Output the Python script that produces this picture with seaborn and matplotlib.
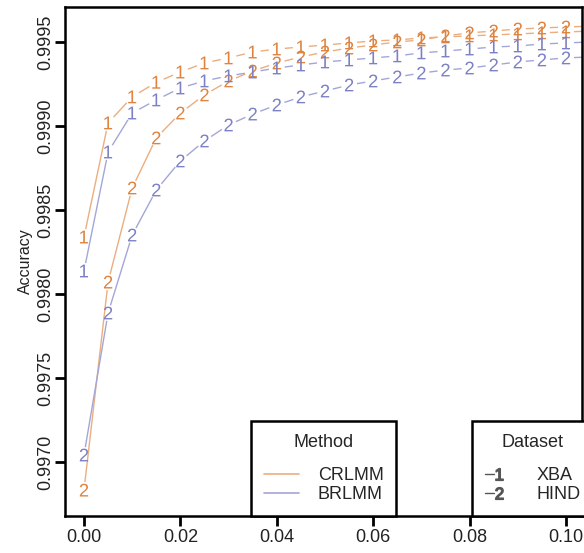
import numpy as np
import pandas as pd
import matplotlib
matplotlib.use("Agg")
import matplotlib.pyplot as plt
import seaborn as sns
from matplotlib.collections import LineCollection
from matplotlib.lines import Line2D
from matplotlib.legend_handler import HandlerTuple

# threshold on the x axis, one accuracy curve per method / dataset
threshold = [0.000, 0.005, 0.010, 0.015, 0.020, 0.025, 0.030, 0.035, 0.040, 0.045, 0.050,
             0.055, 0.060, 0.065, 0.070, 0.075, 0.080, 0.085, 0.090, 0.095, 0.100, 0.105]
crlmm_xba = [0.998339, 0.999018, 0.999173, 0.999260, 0.999321, 0.999375, 0.999405, 0.999440,
             0.999458, 0.999470, 0.999482, 0.999494, 0.999506, 0.999512, 0.999524, 0.999530,
             0.999536, 0.999542, 0.999548, 0.999554, 0.999560, 0.999564]
crlmm_hind = [0.996833, 0.998071, 0.998631, 0.998929, 0.999077, 0.999185, 0.999268, 0.999327,
              0.999375, 0.999411, 0.999440, 0.999464, 0.999482, 0.999500, 0.999512, 0.999536,
              0.999554, 0.999565, 0.999577, 0.999583, 0.999589, 0.999594]
brlmm_xba = [0.998137, 0.998845, 0.999077, 0.999155, 0.999226, 0.999268, 0.999298, 0.999321,
             0.999345, 0.999363, 0.999381, 0.999393, 0.999405, 0.999417, 0.999435, 0.999446,
             0.999458, 0.999470, 0.999476, 0.999488, 0.999494, 0.999500]
brlmm_hind = [0.997042, 0.997887, 0.998351, 0.998619, 0.998792, 0.998911, 0.999006, 0.999071,
              0.999125, 0.999173, 0.999208, 0.999244, 0.999268, 0.999292, 0.999315, 0.999333,
              0.999345, 0.999363, 0.999381, 0.999393, 0.999405, 0.999411]

methods = ["CRLMM", "BRLMM"]
datasets = ["XBA", "HIND"]
method_colors = {"CRLMM": "#DE8440", "BRLMM": "#7C80C4"}
line_colors = {"CRLMM": "#EBAE80", "BRLMM": "#A3A6D8"}
digits = {"XBA": "1", "HIND": "2"}
xticks = [0.00, 0.02, 0.04, 0.06, 0.08, 0.10]
yticks = [0.9970, 0.9975, 0.9980, 0.9985, 0.9990, 0.9995]

series = [("CRLMM", "XBA", crlmm_xba), ("CRLMM", "HIND", crlmm_hind),
          ("BRLMM", "XBA", brlmm_xba), ("BRLMM", "HIND", brlmm_hind)]
rows = []
for m, d, vals in series:
    for x, v in zip(threshold, vals):
        rows.append({"Threshold": x, "Accuracy": v, "Method": m, "Dataset": d})
df = pd.DataFrame(rows)

sns.set_theme(style="ticks")
plt.rcParams['font.family'] = ['Liberation Sans', 'DejaVu Sans']
plt.rcParams['mathtext.fontset'] = 'custom'
plt.rcParams['mathtext.rm'] = 'Liberation Sans'

W, H = 584, 553
fig = plt.figure(figsize=(W / 100, H / 100), dpi=100)
ax = fig.add_axes([65/W, 1 - 516/H, (582 - 65)/W, (516 - 7)/H])
ax.set_xlim(-0.00394, 0.10332)
ax.set_ylim(0.996679, 0.999708)

# R style type="b": lines stop short of each digit
gap = 8.0
for m, d, vals in series:
    g = df[(df.Method == m) & (df.Dataset == d)]
    pts = ax.transData.transform(g[["Threshold", "Accuracy"]].to_numpy())
    segs = []
    for p0, p1 in zip(pts[:-1], pts[1:]):
        dv = p1 - p0
        L = np.hypot(*dv)
        if L > 2 * gap:
            u = dv / L
            segs.append(ax.transData.inverted().transform(np.array([p0 + u * gap, p1 - u * gap])))
    ax.add_collection(LineCollection(segs, colors=line_colors[m], linewidths=1.0))

marker_map = {d: "$\\mathregular{%s}$" % digits[d] for d in datasets}
sns.scatterplot(data=df, x="Threshold", y="Accuracy", hue="Method", style="Dataset",
                markers=marker_map, palette=method_colors, s=85, linewidth=0,
                legend=False, ax=ax, zorder=3)

ax.set_xticks(xticks)
ax.set_xticklabels(["%.2f" % t for t in xticks])
ax.set_yticks(yticks)
ax.set_yticklabels(["%.4f" % t for t in yticks])
ax.tick_params(length=0, labelsize=13, labelcolor="#222222")
ax.tick_params(axis="x", pad=9)
ax.tick_params(axis="y", pad=8, labelrotation=90)
plt.setp(ax.get_yticklabels(), va="center")
ax.set_xlabel("")
ax.set_ylabel("Accuracy", fontsize=11.5, labelpad=3, color="#222222")
for sp in ax.spines.values():
    sp.set_visible(True)
    sp.set_color("black")
    sp.set_linewidth(1.8)

# tick marks: drawn in a transparent full-figure overlay axes (pixel coords),
# positions taken from the main axes' own transform
over = fig.add_axes([0, 0, 1, 1], zorder=5)
over.set_xlim(0, W)
over.set_ylim(0, H)
over.axis("off")
over.patch.set_alpha(0)
tick_px = 10.0
for t in xticks:
    px, py = ax.transData.transform((t, ax.get_ylim()[0]))
    over.plot([px, px], [py, py - tick_px], color="black", lw=2.0, solid_capstyle="butt")
for t in yticks:
    px, py = ax.transData.transform((ax.get_xlim()[0], t))
    over.plot([px, px - tick_px], [py, py], color="black", lw=2.0, solid_capstyle="butt")

# legends
method_handles = [Line2D([], [], color=line_colors[m], lw=1.2) for m in methods]
leg1 = ax.legend(method_handles, methods, title="Method", loc="lower left",
                 bbox_to_anchor=(0.36, 0.0), borderaxespad=0, frameon=True, fancybox=False,
                 edgecolor="black", fontsize=13, title_fontsize=13, handlelength=1.95,
                 handletextpad=1.05, borderpad=0.7, labelspacing=0.12, framealpha=1)
leg1.get_frame().set_linewidth(1.8)
leg1._legend_box.sep = 12
ax.add_artist(leg1)

data_handles = []
for d in datasets:
    ln = Line2D([], [], color="#555555", lw=1.0)
    mk = Line2D([], [], color="#555555", marker=marker_map[d], linestyle="None", markersize=8.5)
    data_handles.append((ln, mk))
leg2 = ax.legend(data_handles, datasets, title="Dataset", loc="lower left",
                 bbox_to_anchor=(0.787, 0.0), borderaxespad=0, frameon=True, fancybox=False,
                 edgecolor="black", fontsize=13, title_fontsize=13, handlelength=1.1,
                 handletextpad=1.8, borderpad=0.7, labelspacing=0.12, framealpha=1,
                 handler_map={tuple: HandlerTuple(ndivide=2, pad=0)})
leg2.get_frame().set_linewidth(1.8)
leg2._legend_box.sep = 12

fig.savefig("out.png", dpi=100)
